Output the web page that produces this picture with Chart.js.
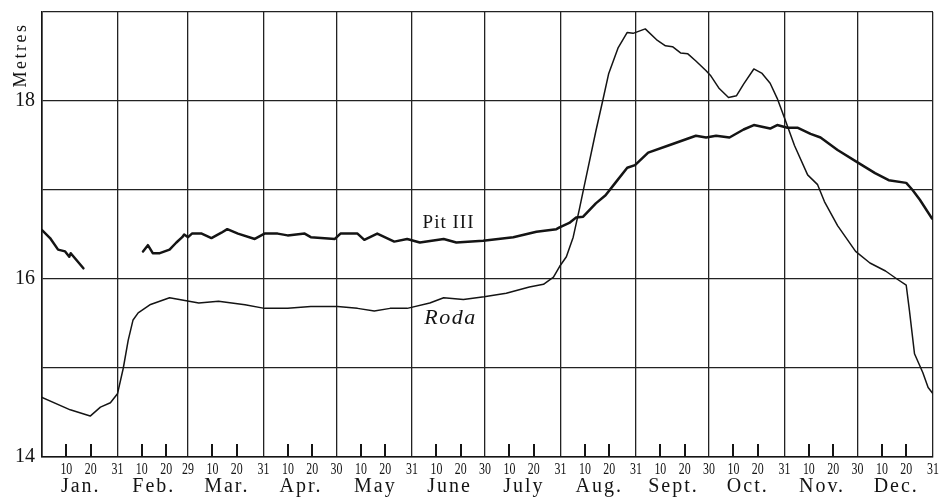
<!DOCTYPE html>
<html>
<head>
<meta charset="utf-8">
<script src="https://cdn.jsdelivr.net/npm/chart.js@4.4.1/dist/chart.umd.min.js"></script>
<style>
    html, body { margin: 0; padding: 0; background: #fff; }
    canvas { display: block; }
</style>
</head>
<body>
<canvas id="chart" width="952" height="500"></canvas>
<script>
// Months of a leap year; x axis is the day of the year (0..366)
const months = ['Jan.', 'Feb.', 'Mar.', 'Apr.', 'May', 'June', 'July', 'Aug.', 'Sept.', 'Oct.', 'Nov.', 'Dec.'];
const monthDays = [31, 29, 31, 30, 31, 30, 31, 31, 30, 31, 30, 31];
const levelTicks = [14, 16, 18];

// Roda (thin line), water level in metres
const rodaDays = [
    0, 11.6, 19.8, 24, 28.1, 31, 33.4, 35.4, 37.4, 39.5, 44.3,
    52.4, 56.4, 64.4, 72.5, 83.4, 91.4, 100.9, 110.4, 121.4, 129.6,
    136.5, 143, 150, 159.3, 165, 173.1, 181.6, 190.7, 200.2, 206,
    210.1, 212.6, 215.4, 218.2, 220.7, 222.7, 227.5, 230.3, 232.8, 236.7,
    240.4, 242.8, 247.8, 252.8, 256.1, 259, 262.3, 265.3, 268.6, 272.8,
    274.8, 278.2, 282, 285.3, 288.2, 292.4, 295.8, 299.1, 302, 305,
    309.1, 314.5, 318.6, 321.4, 326.8, 334.2, 340.1, 346.5, 351.2, 355,
    356.3, 358.4, 361.8, 364, 366,
];
const rodaLevels = [
    14.67, 14.53, 14.46, 14.56, 14.61, 14.71, 15.00, 15.31, 15.54, 15.62, 15.71,
    15.79, 15.77, 15.73, 15.75, 15.71, 15.67, 15.67, 15.69, 15.69, 15.67,
    15.64, 15.67, 15.67, 15.73, 15.79, 15.77, 15.80, 15.84, 15.91, 15.94,
    16.02, 16.14, 16.25, 16.47, 16.78, 17.04, 17.66, 18.00, 18.31, 18.60,
    18.77, 18.76, 18.81, 18.68, 18.62, 18.61, 18.54, 18.53, 18.45, 18.34,
    18.28, 18.14, 18.04, 18.06, 18.19, 18.36, 18.31, 18.20, 18.03, 17.81,
    17.50, 17.17, 17.06, 16.87, 16.60, 16.31, 16.18, 16.09, 16.00, 15.93,
    15.65, 15.16, 14.95, 14.78, 14.71,
];

// Pit III (thick line); null marks the break in the record
const pitDays = [
    0, 3.3, 6.6, 9.5, 11.2, 11.8, 17,
    29,
    41.5, 43.5, 45.5, 48.4, 52.4, 55.2, 57.6, 58.4, 60, 61.6,
    65.6, 69.6, 73.7, 76.1, 80.5, 87.4, 91.4, 96.8, 100.9, 107.9,
    110.4, 120.3, 122.6, 129.6, 132.4, 137.7, 144.7, 150, 155.2, 165,
    170.2, 181.2, 193.6, 203.1, 211.3, 212.6, 216.6, 219.4, 222.3, 227.5,
    231.5, 235.5, 240.4, 243.6, 249, 257.3, 268.6, 272.8, 276.9, 282.4,
    288.2, 292.4, 299.1, 302, 306.2, 310.3, 315.7, 319.8, 326.8, 335,
    342.2, 347.8, 355, 357.6, 360.6, 365.6,
];
const pitLevels = [
    16.55, 16.46, 16.33, 16.31, 16.25, 16.29, 16.12,
    null,
    16.31, 16.38, 16.29, 16.29, 16.33, 16.41, 16.47, 16.50, 16.47, 16.51,
    16.51, 16.46, 16.52, 16.56, 16.51, 16.45, 16.51, 16.51, 16.49, 16.51,
    16.47, 16.45, 16.51, 16.51, 16.44, 16.51, 16.42, 16.45, 16.41, 16.45,
    16.41, 16.43, 16.47, 16.53, 16.56, 16.58, 16.63, 16.69, 16.70, 16.85,
    16.94, 17.08, 17.25, 17.28, 17.42, 17.50, 17.61, 17.59, 17.61, 17.59,
    17.68, 17.73, 17.69, 17.73, 17.70, 17.70, 17.63, 17.59, 17.45, 17.31,
    17.19, 17.11, 17.08, 17.00, 16.89, 16.68,
];

const SERIF = '"Liberation Serif", "DejaVu Serif", serif';
const INK = '#141414';

// month boundaries, 10th/20th ticks and their labels
const monthStarts = [];
monthDays.reduce((start, days) => {
    monthStarts.push(start);
    return start + days;
}, 0);
const monthEnds = [0, ...monthStarts.map((start, i) => start + monthDays[i])];
const dayMarks = monthStarts.flatMap((start) => [start + 10, start + 20]);

const xTickLabels = new Map([[0, '']]);
monthStarts.forEach((start, i) => {
    xTickLabels.set(start + 10, '10');
    xTickLabels.set(start + 20, '20');
    xTickLabels.set(start + monthDays[i], String(monthDays[i]));
});
const xTicks = [...xTickLabels.keys()].sort((a, b) => a - b);

const toPoints = (days, levels) => days.map((day, i) => ({ x: day, y: levels[i] }));

const decorations = {
    id: 'decorations',
    afterDraw(chart) {
        const { ctx, chartArea: area, scales } = chart;
        const x = scales.x;
        const y = scales.y;

        ctx.save();
        ctx.fillStyle = INK;

        // short day ticks standing on the bottom axis
        dayMarks.forEach((day) => {
            const px = Math.round(x.getPixelForValue(day));
            ctx.fillRect(px - 1, area.bottom - 13, 2, 13);
        });

        ctx.textAlign = 'center';
        ctx.textBaseline = 'middle';

        // day numbers, set in a tall narrow face like the original
        ctx.font = `17px ${SERIF}`;
        xTicks.forEach((value) => {
            const label = xTickLabels.get(value);
            if (!label) {
                return;
            }
            ctx.save();
            ctx.translate(x.getPixelForValue(value), area.bottom + 13);
            ctx.scale(0.7, 1);
            ctx.fillText(label, 0, 0);
            ctx.restore();
        });

        // month names
        ctx.font = `20px ${SERIF}`;
        ctx.letterSpacing = '2px';
        months.forEach((name, i) => {
            const mid = monthStarts[i] + monthDays[i] / 2;
            ctx.fillText(name, x.getPixelForValue(mid) + 1, area.bottom + 30);
        });

        // axis title
        ctx.save();
        ctx.font = `18px ${SERIF}`;
        ctx.translate(area.left - 21, area.top + 43);
        ctx.rotate(-Math.PI / 2);
        ctx.letterSpacing = '2.5px';
        ctx.fillText('Metres', 0, 0);
        ctx.restore();

        // series names
        ctx.letterSpacing = '1px';
        ctx.font = `19px ${SERIF}`;
        ctx.fillText('Pit III', x.getPixelForValue(167), y.getPixelForValue(16.63));
        ctx.letterSpacing = '1.5px';
        ctx.font = `italic 22px ${SERIF}`;
        ctx.fillText('Roda', x.getPixelForValue(167.8), y.getPixelForValue(15.56));

        ctx.restore();
    },
};

new Chart(document.getElementById('chart'), {
    type: 'line',
    data: {
        datasets: [
            {
                label: 'Roda',
                data: toPoints(rodaDays, rodaLevels),
                borderColor: INK,
                borderWidth: 1.5,
            },
            {
                label: 'Pit III',
                data: toPoints(pitDays, pitLevels),
                borderColor: INK,
                borderWidth: 2.5,
                spanGaps: false,
            },
        ],
    },
    options: {
        responsive: false,
        animation: false,
        devicePixelRatio: 1,
        layout: { padding: { top: 12, right: 19, left: 0, bottom: 0 } },
        elements: {
            point: { radius: 0 },
            line: { tension: 0, borderJoinStyle: 'round', borderCapStyle: 'round' },
        },
        plugins: {
            legend: { display: false },
            tooltip: { enabled: false },
        },
        scales: {
            x: {
                type: 'linear',
                min: 0,
                max: 366,
                afterBuildTicks: (scale) => {
                    scale.ticks = xTicks.map((value) => ({ value }));
                },
                afterFit: (scale) => {
                    scale.height = 43;
                    scale.paddingLeft = 0;
                    scale.paddingRight = 0;
                },
                grid: {
                    color: (ctx) => (ctx.tick && monthEnds.includes(ctx.tick.value) ? '#222' : 'rgba(0,0,0,0)'),
                    lineWidth: 1.3,
                    drawTicks: false,
                },
                border: { color: INK, width: 1.6 },
                ticks: {
                    display: false,
                    autoSkip: false,
                },
            },
            y: {
                min: 14,
                max: 19,
                afterFit: (scale) => {
                    scale.width = 42;
                    scale.paddingTop = 0;
                    scale.paddingBottom = 0;
                },
                grid: { color: '#222', lineWidth: 1.3, drawTicks: false },
                border: { color: INK, width: 1.6 },
                ticks: {
                    stepSize: 1,
                    padding: 7,
                    color: INK,
                    font: { family: SERIF, size: 20 },
                    callback: (value) => (levelTicks.includes(value) ? String(value) : ''),
                },
            },
        },
    },
    plugins: [decorations],
});
</script>
</body>
</html>
